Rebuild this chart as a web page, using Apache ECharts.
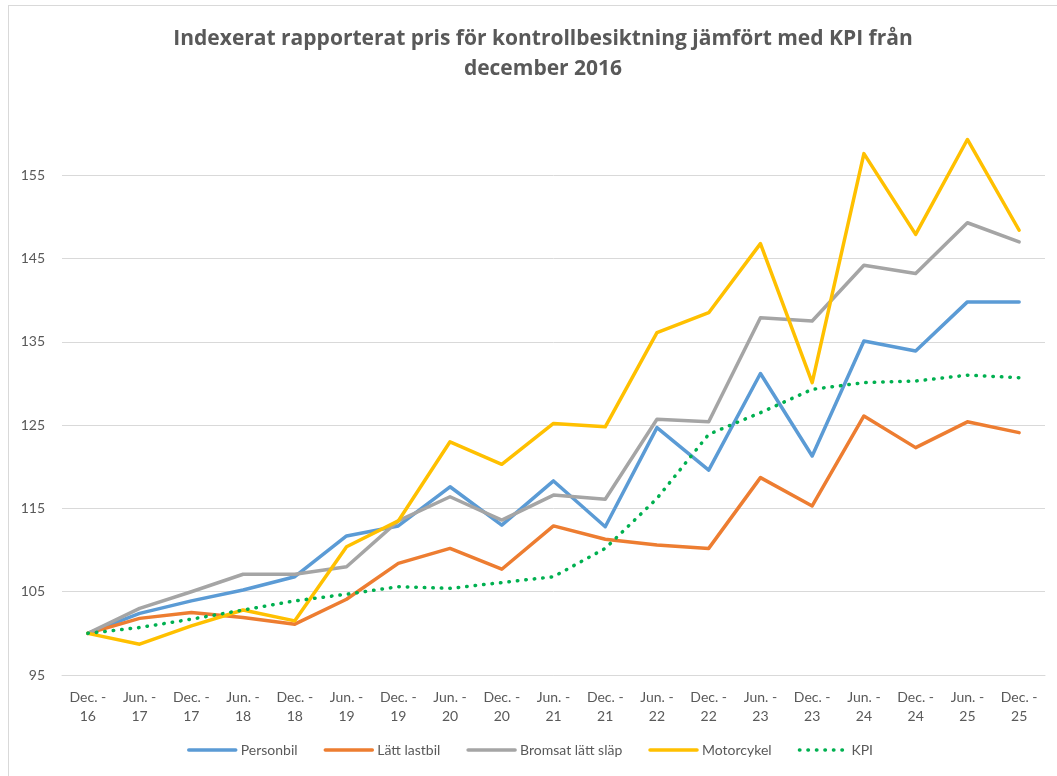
<!DOCTYPE html>
<html>
<head>
<meta charset="utf-8">
<script src="https://cdn.jsdelivr.net/npm/echarts@6/dist/echarts.min.js"></script>
<style>
  html, body { margin: 0; padding: 0; background: #fff; overflow: hidden; }
  #frame { position: absolute; left: 8px; top: 5px; width: 1100px; height: 820px; border: 1px solid #D9D9D9; }
  #main { position: absolute; left: 0; top: 0; width: 1057px; height: 776px; }
</style>
</head>
<body>
<div id="frame"></div>
<div id="main"></div>
<script>
var categories = ['Dec. -\n16', 'Jun. -\n17', 'Dec. -\n17', 'Jun. -\n18', 'Dec. -\n18', 'Jun. -\n19',
  'Dec. -\n19', 'Jun. -\n20', 'Dec. -\n20', 'Jun. -\n21', 'Dec. -\n21', 'Jun. -\n22', 'Dec. -\n22',
  'Jun. -\n23', 'Dec. -\n23', 'Jun. -\n24', 'Dec. -\n24', 'Jun. -\n25', 'Dec. -\n25'];

var personbil = [100, 102.4, 103.9, 105.2, 106.8, 111.7, 112.9, 117.6, 113.0, 118.3, 112.8, 124.7, 119.6, 131.2, 121.3, 135.1, 133.9, 139.8, 139.8];
var lattLastbil = [100, 101.8, 102.5, 101.9, 101.1, 104.1, 108.4, 110.2, 107.7, 112.9, 111.3, 110.6, 110.2, 118.7, 115.3, 126.1, 122.3, 125.4, 124.1];
var bromsatSlap = [100, 103.0, 105.0, 107.1, 107.1, 108.0, 113.5, 116.4, 113.6, 116.6, 116.1, 125.7, 125.4, 137.9, 137.5, 144.2, 143.2, 149.3, 147.0];
var motorcykel = [100, 98.7, 100.9, 102.8, 101.5, 110.4, 113.5, 123.0, 120.3, 125.2, 124.8, 136.1, 138.5, 146.8, 130.1, 157.6, 147.9, 159.3, 148.4];
var kpi = [100, 100.7, 101.7, 102.8, 103.9, 104.7, 105.6, 105.4, 106.1, 106.8, 110.2, 116.2, 123.9, 126.5, 129.3, 130.1, 130.3, 131.0, 130.7];

var yTicks = { min: 95, max: 165, interval: 10 };

var textColor = '#595959';
var font = 'Lato, "Open Sans", sans-serif';

function lineSeries(name, data, color, dotted) {
  return {
    name: name,
    type: 'line',
    data: data,
    symbol: 'none',
    smooth: false,
    lineStyle: dotted
      ? { color: color, width: 3.5, type: [0.5, 8], cap: 'round' }
      : { color: color, width: 3.5, cap: 'round', join: 'round' },
    itemStyle: { color: color }
  };
}

var chart = echarts.init(document.getElementById('main'));
chart.setOption({
  animation: false,
  backgroundColor: 'transparent',
  textStyle: { fontFamily: font },
  title: {
    text: 'Indexerat rapporterat pris för kontrollbesiktning jämfört med KPI från\ndecember 2016',
    left: 538,
    top: 19,
    textAlign: 'center',
    textStyle: { fontSize: 21, fontWeight: 'bold', color: textColor, lineHeight: 30, fontFamily: '"Open Sans", sans-serif' }
  },
  grid: { left: 62, right: 12, top: 92, bottom: 101, containLabel: false },
  xAxis: {
    type: 'category',
    data: categories,
    boundaryGap: true,
    axisLine: { lineStyle: { color: '#D9D9D9', width: 1 } },
    axisTick: { show: false },
    axisLabel: { color: textColor, fontSize: 14, lineHeight: 19, margin: 13, interval: 0 }
  },
  yAxis: {
    type: 'value',
    min: yTicks.min,
    max: yTicks.max,
    interval: yTicks.interval,
    axisLine: { show: false },
    axisTick: { show: false },
    axisLabel: { color: textColor, fontSize: 14, margin: 17, showMaxLabel: false },
    splitLine: { showMaxLine: false, lineStyle: { color: '#D9D9D9', width: 1 } }
  },
  legend: {
    bottom: 14,
    left: 182,
    itemWidth: 47,
    itemHeight: 14,
    itemGap: 26,
    itemStyle: { opacity: 0 },
    lineStyle: { width: 3.5 },
    textStyle: { color: textColor, fontSize: 14 },
    data: ['Personbil', 'Lätt lastbil', 'Bromsat lätt släp', 'Motorcykel', 'KPI']
  },
  series: [
    lineSeries('Personbil', personbil, '#5B9BD5'),
    lineSeries('Lätt lastbil', lattLastbil, '#ED7D31'),
    lineSeries('Bromsat lätt släp', bromsatSlap, '#A5A5A5'),
    lineSeries('Motorcykel', motorcykel, '#FFC000'),
    lineSeries('KPI', kpi, '#00B050', true)
  ]
});
</script>
</body>
</html>
